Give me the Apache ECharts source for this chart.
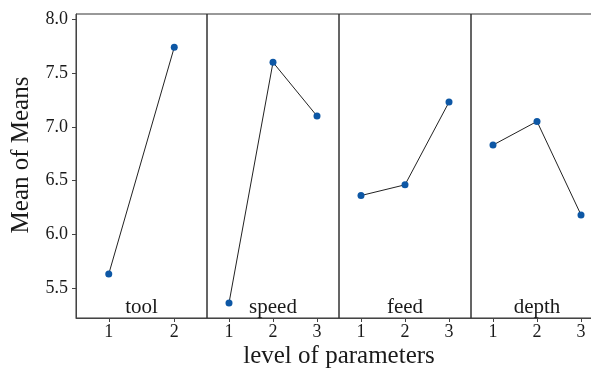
<!DOCTYPE html>
<html>
<head>
<meta charset="utf-8">
<script src="https://cdn.jsdelivr.net/npm/echarts@6/dist/echarts.min.js"></script>
<style>
  html, body { margin: 0; padding: 0; background: #fff; overflow: hidden; }
  /* the last panel runs past the right edge of the window */
  #chart { width: 610px; height: 368px; }
</style>
</head>
<body>
<div id="chart"></div>
<script>
// Main effects plot: mean of means for each level of each parameter
const factors = ['tool', 'speed', 'feed', 'depth'];
const levels = [
  ['1', '2'],
  ['1', '2', '3'],
  ['1', '2', '3'],
  ['1', '2', '3']
];
const toolMeans = [5.63, 7.74];
const speedMeans = [5.36, 7.60, 7.10];
const feedMeans = [6.36, 6.46, 7.23];
const depthMeans = [6.83, 7.05, 6.18];
const yTicks = [5.5, 6.0, 6.5, 7.0, 7.5, 8.0];
const yTitle = 'Mean of Means';
const xTitle = 'level of parameters';

const seriesValues = [toolMeans, speedMeans, feedMeans, depthMeans];

const FONT = '"Liberation Serif", "DejaVu Serif", serif';
const AXIS_COLOR = '#444';
const TEXT_COLOR = '#1a1a1a';
const yMin = 5.22, yMax = 8.05;

const panelLeft = [76, 207, 339, 471];
const panelWidth = [131, 132, 132, 132];
const panelTop = 14, panelHeight = 304;

const grids = [], xAxes = [], yAxes = [], series = [], panelLabels = [];
factors.forEach((name, i) => {
  grids.push({
    left: panelLeft[i], top: panelTop, width: panelWidth[i], height: panelHeight,
    show: true, borderColor: '#333', borderWidth: 1, containLabel: false
  });
  xAxes.push({
    type: 'category', gridIndex: i, data: levels[i], boundaryGap: true,
    axisLine: { show: true, lineStyle: { color: AXIS_COLOR, width: 1 } },
    axisTick: { show: true, alignWithLabel: true, length: 4, lineStyle: { color: AXIS_COLOR } },
    axisLabel: { fontFamily: FONT, fontSize: 18, color: TEXT_COLOR, margin: 5 },
    splitLine: { show: false }
  });
  yAxes.push({
    type: 'value', gridIndex: i, min: yMin, max: yMax, show: i === 0,
    axisLine: { show: true, lineStyle: { color: AXIS_COLOR, width: 1 } },
    axisTick: { show: true, length: 4, customValues: yTicks, lineStyle: { color: AXIS_COLOR } },
    axisLabel: {
      fontFamily: FONT, fontSize: 18, color: TEXT_COLOR, margin: 8,
      customValues: yTicks, formatter: v => Number(v).toFixed(1)
    },
    splitLine: { show: false }
  });
  series.push({
    type: 'line', xAxisIndex: i, yAxisIndex: i, data: seriesValues[i],
    symbol: 'circle', symbolSize: 7,
    itemStyle: { color: '#0d57a5' },
    lineStyle: { color: '#222', width: 1 },
    emphasis: { disabled: true }
  });
  // parameter name, centred near the bottom of its panel
  panelLabels.push({
    type: 'text',
    x: panelLeft[i] + panelWidth[i] / 2,
    y: panelTop + panelHeight - 11,
    style: { text: name, font: '21px ' + FONT, fill: TEXT_COLOR, align: 'center', verticalAlign: 'middle' }
  });
});

const chart = echarts.init(document.getElementById('chart'), null, { renderer: 'canvas' });
chart.setOption({
  animation: false,
  backgroundColor: '#fff',
  grid: grids,
  xAxis: xAxes,
  yAxis: yAxes,
  series: series,
  graphic: panelLabels.concat([
    {
      type: 'text', x: 21, y: 155, rotation: Math.PI / 2,
      style: { text: yTitle, font: '25px ' + FONT, fill: TEXT_COLOR, align: 'center', verticalAlign: 'middle' }
    },
    {
      type: 'text', x: 339, y: 356,
      style: { text: xTitle, font: '25px ' + FONT, fill: TEXT_COLOR, align: 'center', verticalAlign: 'middle' }
    }
  ])
});
</script>
</body>
</html>
